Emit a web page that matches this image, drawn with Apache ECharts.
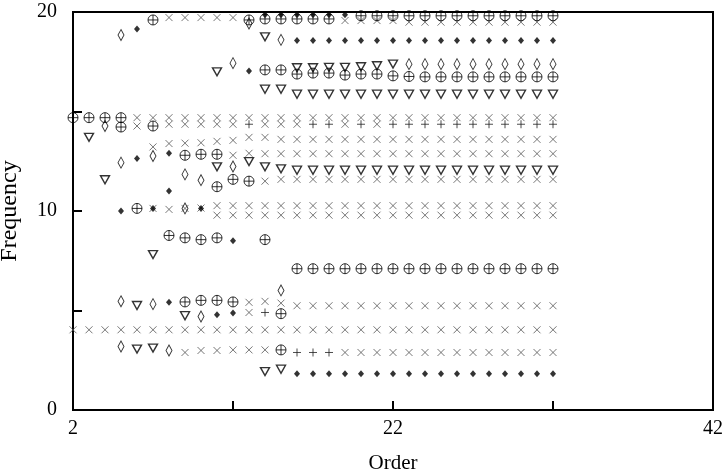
<!DOCTYPE html>
<html>
<head>
<meta charset="utf-8">
<script src="https://cdn.jsdelivr.net/npm/echarts@6/dist/echarts.min.js"></script>
<style>html,body{margin:0;padding:0;background:#fff}#c{width:727px;height:474px}</style>
</head>
<body>
<div id="c"></div>
<script>
// Each track: [first order, [frequency values for consecutive orders; null = no point]]
const crossTracks = [
  [8, [19.72, 19.72, 19.72, 19.72, 19.72]],
  [19, [19.57, 19.57, 19.57, 19.57, 19.49, 19.49, 19.49, 19.49, 19.49, 19.49, 19.49, 19.49, 19.49, 19.49]],
  [6, [14.69, 14.69, 14.69, 14.69, 14.69, 14.69, 14.69, 14.69, 14.69, 14.69, 14.69, 14.69, 14.69, 14.69, 14.69, 14.69, 14.69, 14.69, 14.69, 14.69, 14.69, 14.69, 14.69, 14.69, 14.69, 14.69, 14.69]],
  [6, [14.27, null, 14.36, 14.36, 14.36, 14.36, 14.36, null, 14.36, 14.36, 14.36, null, null, 14.36, null, 14.36]],
  [7, [13.22, 13.39, 13.41, 13.43, 13.5, 13.55, 13.7, 13.7, 13.6, 13.6, 13.6, 13.6, 13.6, 13.6, 13.6, 13.6, 13.6, 13.6, 13.6, 13.6, 13.6, 13.6, 13.6, 13.6, 13.6, 13.6]],
  [12, [12.8, 12.9, 12.88, 12.88, 12.88, 12.88, 12.88, 12.88, 12.88, 12.88, 12.88, 12.88, 12.88, 12.88, 12.88, 12.88, 12.88, 12.88, 12.88, 12.88, 12.88]],
  [14, [11.5, 11.59, 11.59, 11.59, 11.59, 11.59, 11.59, 11.59, 11.59, 11.59, 11.59, 11.59, 11.59, 11.59, 11.59, 11.59, 11.59, 11.59, 11.59]],
  [7, [10.13, 10.08, 10.13, 10.15, 10.27, 10.27, 10.27, 10.27, 10.27, 10.27, 10.27, 10.27, 10.27, 10.27, 10.27, 10.27, 10.27, 10.27, 10.27, 10.27, 10.27, 10.27, 10.27, 10.27, 10.27, 10.27]],
  [11, [9.79, 9.79, 9.79, 9.79, 9.79, 9.79, 9.79, 9.79, 9.79, 9.79, 9.79, 9.79, 9.79, 9.79, 9.79, 9.79, 9.79, 9.79, 9.79, 9.79, 9.79, 9.79]],
  [13, [5.41, 5.46, 5.37, 5.24, 5.24, 5.24, 5.24, 5.24, 5.24, 5.24, 5.24, 5.24, 5.24, 5.24, 5.24, 5.24, 5.24, 5.24, 5.24, 5.24]],
  [13, [4.9]],
  [2, [4.03, 4.03, 4.03, 4.03, 4.03, 4.03, 4.03, 4.03, 4.03, 4.03, 4.03, 4.03, 4.03, 4.03, 4.03, 4.03, 4.03, 4.03, 4.03, 4.03, 4.03, 4.03, 4.03, 4.03, 4.03, 4.03, 4.03, 4.03, 4.03, 4.03, 4.03]],
  [9, [2.89, 2.99, 2.99, 3.02, 3.02, 3.02, null, null, null, null, 2.89, 2.89, 2.89, 2.89, 2.89, 2.89, 2.89, 2.89, 2.89, 2.89, 2.89, 2.89, 2.89, 2.89]]
];
const plusTracks = [
  [13, [14.36, null, null, null, 14.36, 14.36, null, 14.36, null, 14.36, 14.36, 14.36, 14.36, 14.36, 14.36, 14.36, 14.36, 14.36, 14.36, 14.36]],
  [14, [4.9]],
  [16, [2.89, 2.89, 2.89]]
];
const circlePlusTracks = [
  [7, [19.6, null, null, null, null, null, 19.6, 19.65, 19.65, 19.65, 19.65, 19.65, null, 19.81, 19.81, 19.81, 19.81, 19.81, 19.81, 19.81, 19.81, 19.81, 19.81, 19.81, 19.81, 19.81]],
  [14, [17.09, 17.09, 16.88, 16.93, 16.93, 16.83, 16.88, 16.88, 16.79, 16.76, 16.74, 16.74, 16.74, 16.74, 16.74, 16.74, 16.74, 16.74, 16.74]],
  [2, [14.69, 14.69, 14.69, 14.69]],
  [5, [14.22, null, 14.27]],
  [9, [12.8, 12.85, 12.85]],
  [11, [11.22, 11.59, 11.5]],
  [6, [10.13]],
  [8, [8.77, 8.65, 8.56, 8.65, null, null, 8.56]],
  [16, [7.1, 7.1, 7.1, 7.1, 7.1, 7.1, 7.1, 7.1, 7.1, 7.1, 7.1, 7.1, 7.1, 7.1, 7.1, 7.1, 7.1]],
  [9, [5.43, 5.51, 5.51, 5.43]],
  [15, [4.84]],
  [15, [3.02]]
];
const diamondTracks = [
  [13, [19.42]],
  [5, [18.84]],
  [15, [18.6]],
  [12, [17.43]],
  [23, [17.38, 17.38, 17.38, 17.38, 17.38, 17.38, 17.38, 17.38, 17.38, 17.38]],
  [4, [14.27]],
  [5, [12.43, null, 12.76]],
  [12, [12.24]],
  [9, [11.84, 11.55]],
  [9, [10.13]],
  [15, [6.01]],
  [5, [5.46, null, 5.32]],
  [10, [4.7]],
  [5, [3.19, null, null, 2.99]]
];
const triangleTracks = [
  [14, [18.75]],
  [11, [16.99]],
  [16, [17.2, 17.2, 17.22, 17.22, 17.25, 17.3, 17.38]],
  [14, [16.12, 16.12, 15.87, 15.87, 15.87, 15.87, 15.87, 15.87, 15.87, 15.87, 15.87, 15.87, 15.87, 15.87, 15.87, 15.87, 15.87, 15.87, 15.87]],
  [3, [13.7]],
  [11, [12.22, null, 12.48, 12.22, 12.12, 12.05, 12.05, 12.05, 12.05, 12.05, 12.05, 12.05, 12.05, 12.05, 12.05, 12.05, 12.05, 12.05, 12.05, 12.05, 12.05, 12.05]],
  [4, [11.57]],
  [7, [7.81]],
  [6, [5.25]],
  [9, [4.74]],
  [6, [3.06, 3.11]],
  [14, [1.93, 2.05]]
];
const dotTracks = [
  [6, [19.14]],
  [14, [19.86, 19.86, 19.86, 19.86, 19.86, 19.86]],
  [16, [18.57, 18.57, 18.57, 18.57, 18.57, 18.57, 18.57, 18.57, 18.57, 18.57, 18.57, 18.57, 18.57, 18.57, 18.57, 18.57, 18.57]],
  [13, [17.04]],
  [6, [12.64, null, 12.9]],
  [8, [11.0]],
  [5, [10.0, null, 10.13, null, null, 10.13]],
  [12, [8.5]],
  [8, [5.41]],
  [11, [4.79, 4.87]],
  [16, [1.82, 1.82, 1.82, 1.82, 1.82, 1.82, 1.82, 1.82, 1.82, 1.82, 1.82, 1.82, 1.82, 1.82, 1.82, 1.82, 1.82]]
];
const xTickLabels = {0: '2', 20: '22', 40: '42'};
const yTickLabels = {0: '0', 10: '10', 20: '20'};

function toPoints(tracks) {
  const pts = [];
  tracks.forEach(([start, vals]) => {
    vals.forEach((v, i) => { if (v !== null) pts.push([start + i, v]); });
  });
  return pts;
}

const FONT = '"Liberation Serif", "Times New Roman", serif';
const open = {color: 'rgba(0,0,0,0)', borderColor: '#000', borderWidth: 1};
function sc(name, data, symbol, size, style, z) {
  return {type: 'scatter', name, data, symbol, symbolSize: size, itemStyle: style,
    xAxisIndex: 0, yAxisIndex: 0, silent: true, z: z, clip: false};
}

const chart = echarts.init(document.getElementById('c'), null, {renderer: 'canvas'});
chart.setOption({
  animation: false,
  backgroundColor: '#fff',
  grid: {left: 73, right: 14, top: 12, bottom: 64, containLabel: false, outerBoundsMode: 'none',
    show: true, borderColor: '#000', borderWidth: 2, backgroundColor: 'transparent'},
  xAxis: [
    {type: 'value', min: 2, max: 42, show: false},
    {type: 'value', min: 0, max: 40, interval: 10, position: 'bottom',
      name: 'Order', nameLocation: 'middle', nameGap: 43,
      nameTextStyle: {fontFamily: FONT, fontSize: 21, color: '#000'},
      axisLine: {show: true, onZero: false, lineStyle: {color: '#000', width: 2}},
      axisTick: {show: true, inside: true, length: 9, lineStyle: {color: '#000', width: 2}},
      axisLabel: {margin: 9, fontFamily: FONT, fontSize: 20, color: '#000', hideOverlap: false,
        formatter: v => xTickLabels[v] !== undefined ? xTickLabels[v] : ''},
      splitLine: {show: false}}
  ],
  yAxis: [
    {type: 'value', min: 0, max: 20, interval: 5,
      name: 'Frequency', nameLocation: 'middle', nameGap: 51, nameRotate: 90,
      nameTextStyle: {fontFamily: FONT, fontSize: 24, color: '#000'},
      axisLine: {show: true, onZero: false, lineStyle: {color: '#000', width: 2}},
      axisTick: {show: true, inside: true, length: 9, lineStyle: {color: '#000', width: 2}},
      axisLabel: {margin: 16, fontFamily: FONT, fontSize: 20, color: '#000', hideOverlap: false,
        formatter: v => yTickLabels[v] !== undefined ? yTickLabels[v] : ''},
      splitLine: {show: false}}
  ],
  series: [
    sc('cross', toPoints(crossTracks), 'path://M0,0L10,10M10,0L0,10', 7, {color: 'rgba(0,0,0,0)', borderColor: '#555', borderWidth: 1}, 2),
    sc('plus', toPoints(plusTracks), 'path://M5,0L5,10M0,5L10,5', 8, {color: 'rgba(0,0,0,0)', borderColor: '#222', borderWidth: 1}, 3),
    sc('circleplus', toPoints(circlePlusTracks), 'path://M0,5A5,5,0,1,1,10,5A5,5,0,1,1,0,5ZM5,0L5,10M0,5L10,5', 10, open, 4),
    sc('diamond', toPoints(diamondTracks), 'path://M5,0L10,10L5,20L0,10Z', [6, 11], open, 5),
    sc('triangle', toPoints(triangleTracks), 'path://M0,0L10,0L5,9Z', [9, 8], {color: 'rgba(0,0,0,0)', borderColor: '#000', borderWidth: 1.4}, 6),
    sc('dot', toPoints(dotTracks), 'diamond', [6, 7], {color: '#000'}, 7)
  ]
});
</script>
</body>
</html>
